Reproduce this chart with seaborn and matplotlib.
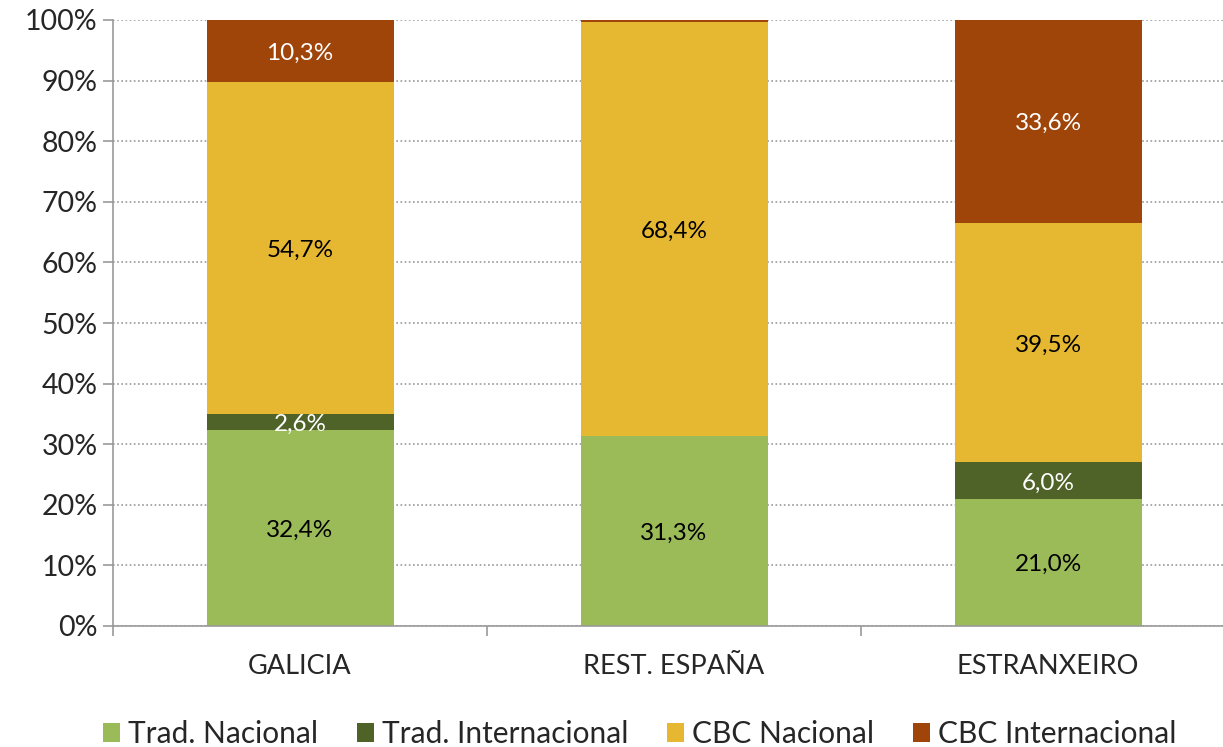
import matplotlib
matplotlib.use("Agg")
import matplotlib.pyplot as plt
import seaborn as sns
import pandas as pd
import numpy as np
from matplotlib.patches import Patch

categories = ["GALICIA", "REST. ESPAÑA", "ESTRANXEIRO"]
series_names = ["Trad. Nacional", "Trad. Internacional", "CBC Nacional", "CBC Internacional"]
trad_nacional = [32.4, 31.3, 21.0]
trad_internacional = [2.6, 0.0, 6.0]
cbc_nacional = [54.7, 68.4, 39.5]
cbc_internacional = [10.3, 0.3, 33.6]
colors = ["#9BBB59", "#4F6228", "#E6B731", "#A0450A"]
label_colors = ["black", "white", "black", "white"]

sns.set_theme(style="white")
plt.rcParams['font.family'] = ['Lato', 'DejaVu Sans']

fig = plt.figure(figsize=(12.23, 7.47), dpi=100)
W, H = 1223, 747
ax = fig.add_axes([113 / W, 1 - 626 / H, 1122 / W, (626 - 20) / H])

values = [trad_nacional, trad_internacional, cbc_nacional, cbc_internacional]
bottom = np.zeros(len(categories))
for name, vals, col, lc in zip(series_names, values, colors, label_colors):
    df = pd.DataFrame({"cat": categories, "val": vals})
    sns.barplot(data=df, x="cat", y="val", color=col, bottom=bottom, width=0.5,
                ax=ax, saturation=1, linewidth=0, errorbar=None, order=categories)
    for i, v in enumerate(vals):
        if v >= 1:
            ax.text(i, bottom[i] + v / 2 - 0.4, f"{v:.1f}%".replace(".", ","),
                    ha="center", va="center", fontsize=17.5, color=lc)
    bottom = bottom + np.array(vals)

ax.set_xlim(-0.5, 2.5)
ax.set_ylim(0, 100)
ax.set_yticks(np.arange(0, 101, 10))
ax.set_yticklabels([f"{t}%" for t in range(0, 101, 10)], fontsize=20.5)
ax.set_xlabel("")
ax.set_ylabel("")
ax.set_xticks(range(3))
ax.set_xticklabels(categories)
ax.tick_params(axis="x", which="major", bottom=True, length=0, labelsize=19.5, pad=20)
ax.set_xticks([-0.5, 0.5, 1.5, 2.5], minor=True)
ax.tick_params(axis="x", which="minor", bottom=True, length=7, color="#999999", width=1.2, direction="out")
ax.tick_params(axis="y", left=True, length=7, color="#999999", width=1.2, direction="out", pad=4)
ax.yaxis.grid(True, linestyle=(0, (1, 1.5)), color="#999999", linewidth=1.2)
ax.set_axisbelow(True)
for s in ["top", "right"]:
    ax.spines[s].set_visible(False)
for s in ["left", "bottom"]:
    ax.spines[s].set_color("#999999")
    ax.spines[s].set_linewidth(1.2)

handles = [Patch(facecolor=c, edgecolor="none") for c in colors]
fig.legend(handles, series_names, loc="center", bbox_to_anchor=(0.523, 1 - 734 / H),
           ncol=4, frameon=False, fontsize=21.5, handlelength=0.57, handleheight=0.57,
           columnspacing=1.3, handletextpad=0.27)

fig.savefig("out.png", dpi=100)
